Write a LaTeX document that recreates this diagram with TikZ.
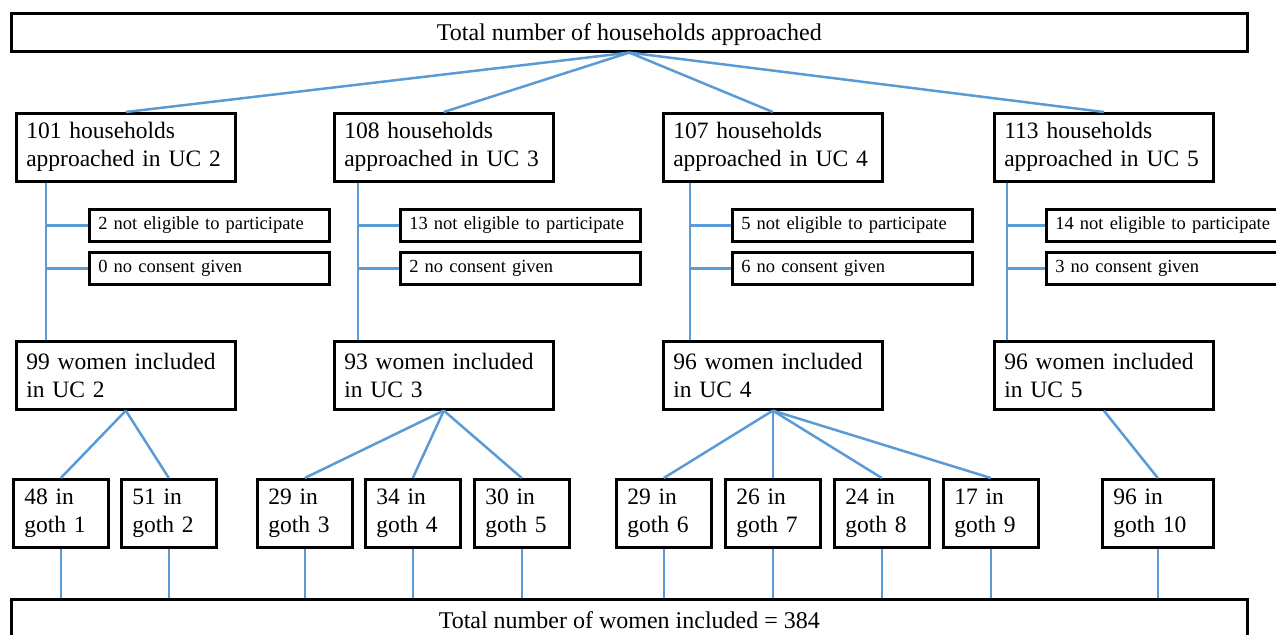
\documentclass[tikz,border=0pt]{standalone}
\usepackage{fontspec}
\setmainfont{Liberation Serif}
\usetikzlibrary{positioning,calc}
\definecolor{linkblue}{RGB}{91,155,213}

\begin{document}
\begin{tikzpicture}
  [x=1pt,y=-1pt,
   boxN/.style={draw,line width=2.6pt,inner sep=0pt,anchor=north west},
   topN/.style={boxN,minimum width=1236pt,minimum height=38pt,text depth=0pt,
     font=\fontsize{24}{28}\selectfont},
   ucN/.style={boxN,minimum width=219pt,minimum height=68pt,text width=199pt,
     align=left,font=\fontsize{23.5}{28}\selectfont},
   gothN/.style={boxN,minimum width=95pt,minimum height=68pt,text width=73pt,
     align=left,font=\fontsize{23.5}{28}\selectfont},
   exN/.style={boxN,minimum width=240pt,minimum height=32pt,text width=222pt,
     align=left,font=\fontsize{18.5}{22}\selectfont},
   link/.style={draw=linkblue,line width=2.5pt}]

  \clip (0,0) rectangle (1276,634);

  % households approached
  \node[topN] (top) at (10,12) {Total number of households approached};

  \node[ucN] (uc2) at (15,112) {101 households\\approached in UC 2};
  \node[ucN] (uc3) at (333,112) {108 households\\approached in UC 3};
  \node[ucN] (uc4) at (662,112) {107 households\\approached in UC 4};
  \node[ucN] (uc5) at (993,112) {113 households\\approached in UC 5};

  \draw[link] (top.south) -- (uc2.north);
  \draw[link] (top.south) -- (uc3.north);
  \draw[link] (top.south) -- (uc4.north);
  \draw[link] (top.south) -- (uc5.north);

  % exclusions
  \node[exN] (ne2) at (88,208) {2 not eligible to participate};
  \node[exN] (nc2) at (88,251) {0 no consent given};
  \node[exN] (ne3) at (399,208) {13 not eligible to participate};
  \node[exN] (nc3) at (399,251) {2 no consent given};
  \node[exN] (ne4) at (731,208) {5 not eligible to participate};
  \node[exN] (nc4) at (731,251) {6 no consent given};
  \node[exN] (ne5) at (1045,208) {14 not eligible to participate};
  \node[exN] (nc5) at (1045,251) {3 no consent given};

  % women included
  \node[ucN] (w2) at (15,340) {99 women included\\in UC 2};
  \node[ucN] (w3) at (333,340) {93 women included\\in UC 3};
  \node[ucN] (w4) at (662,340) {96 women included\\in UC 4};
  \node[ucN] (w5) at (993,340) {96 women included\\in UC 5};

  \coordinate (s2) at ([xshift=31pt]uc2.south west);
  \coordinate (s3) at ([xshift=25pt]uc3.south west);
  \coordinate (s4) at ([xshift=28pt]uc4.south west);
  \coordinate (s5) at ([xshift=14pt]uc5.south west);

  \draw[link] (s2) -- (s2 |- w2.north);
  \draw[link] (s3) -- (s3 |- w3.north);
  \draw[link] (s4) -- (s4 |- w4.north);
  \draw[link] (s5) -- (s5 |- w5.north);

  \draw[link] (ne2.west) -- (ne2.west -| s2);
  \draw[link] (nc2.west) -- (nc2.west -| s2);
  \draw[link] (ne3.west) -- (ne3.west -| s3);
  \draw[link] (nc3.west) -- (nc3.west -| s3);
  \draw[link] (ne4.west) -- (ne4.west -| s4);
  \draw[link] (nc4.west) -- (nc4.west -| s4);
  \draw[link] (ne5.west) -- (ne5.west -| s5);
  \draw[link] (nc5.west) -- (nc5.west -| s5);

  % goths
  \node[gothN] (g1) at (12,478) {48 in\\goth 1};
  \node[gothN] (g2) at (120,478) {51 in\\goth 2};
  \node[gothN] (g3) at (256,478) {29 in\\goth 3};
  \node[gothN] (g4) at (364,478) {34 in\\goth 4};
  \node[gothN] (g5) at (473,478) {30 in\\goth 5};
  \node[gothN] (g6) at (615,478) {29 in\\goth 6};
  \node[gothN] (g7) at (724,478) {26 in\\goth 7};
  \node[gothN] (g8) at (833,478) {24 in\\goth 8};
  \node[gothN] (g9) at (942,478) {17 in\\goth 9};
  \node[gothN,minimum width=111pt,text width=89pt] (g10) at (1101,478) {96 in\\goth 10};

  \draw[link] (w2.south) -- (g1.north);
  \draw[link] (w2.south) -- (g2.north);
  \draw[link] (w3.south) -- (g3.north);
  \draw[link] (w3.south) -- (g4.north);
  \draw[link] (w3.south) -- (g5.north);
  \draw[link] (w4.south) -- (g6.north);
  \draw[link] (w4.south) -- (g7.north);
  \draw[link] (w4.south) -- (g8.north);
  \draw[link] (w4.south) -- (g9.north);
  \draw[link] (w5.south) -- (g10.north);

  % total included
  \node[topN,minimum height=42pt] (tot) at (10,598) {Total number of women included = 384};

  \draw[link] (g1.south) -- (g1.south |- tot.north);
  \draw[link] (g2.south) -- (g2.south |- tot.north);
  \draw[link] (g3.south) -- (g3.south |- tot.north);
  \draw[link] (g4.south) -- (g4.south |- tot.north);
  \draw[link] (g5.south) -- (g5.south |- tot.north);
  \draw[link] (g6.south) -- (g6.south |- tot.north);
  \draw[link] (g7.south) -- (g7.south |- tot.north);
  \draw[link] (g8.south) -- (g8.south |- tot.north);
  \draw[link] (g9.south) -- (g9.south |- tot.north);
  \draw[link] (g10.south) -- (g10.south |- tot.north);

\end{tikzpicture}
\end{document}
